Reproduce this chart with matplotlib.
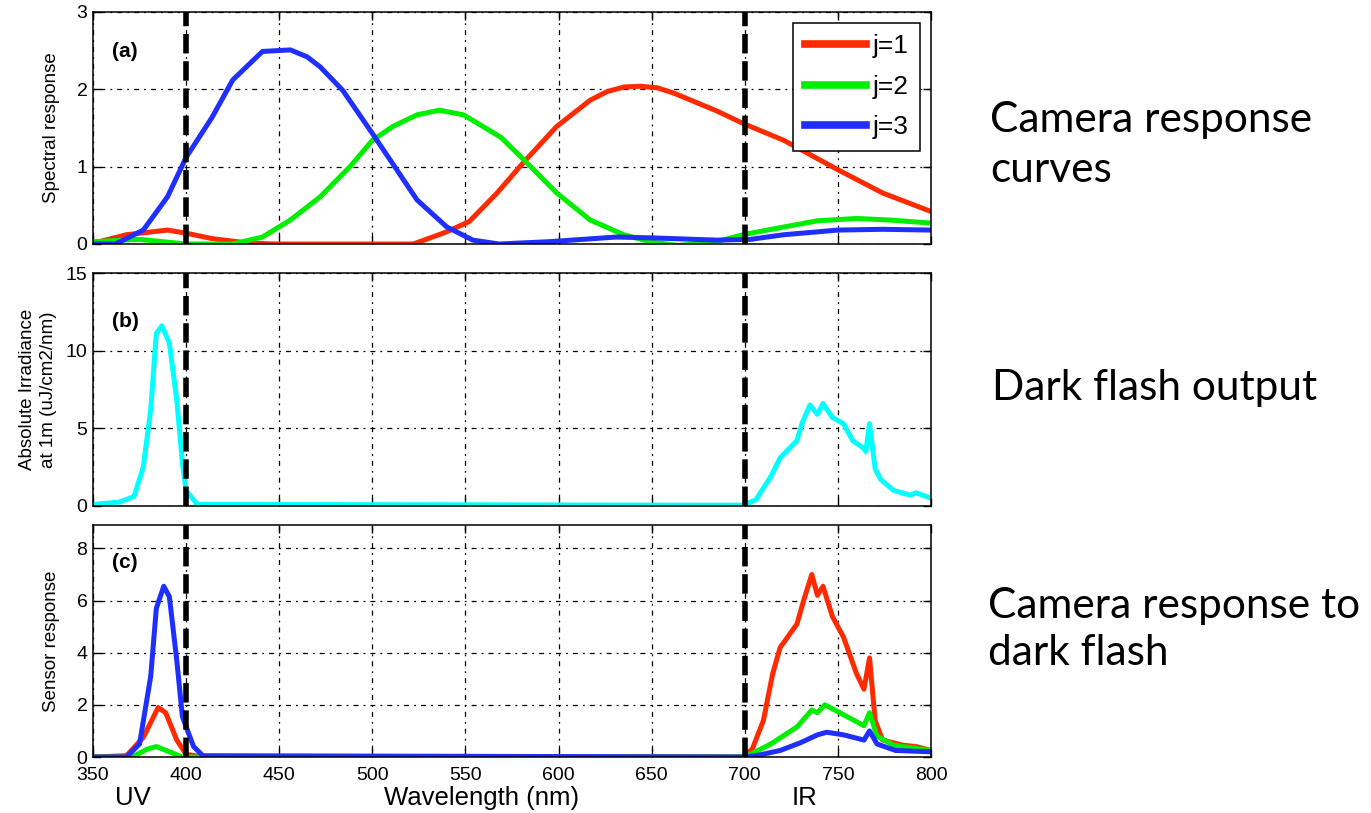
import matplotlib
matplotlib.use("Agg")
import matplotlib.pyplot as plt
from matplotlib.lines import Line2D

plt.rcParams['font.family'] = ['Liberation Sans', 'DejaVu Sans']

# ---------------- data ----------------
# Panel (a): camera spectral response curves
wl_a_r = [350, 368, 390, 400, 414, 434, 449, 522, 538, 542, 552, 567, 581, 599, 617, 626, 635, 644, 653, 662, 671, 685, 699, 721, 750, 774, 800]
resp_r = [0.01, 0.12, 0.18, 0.14, 0.07, 0.01, 0.0, 0.0, 0.14, 0.18, 0.29, 0.66, 1.05, 1.52, 1.86, 1.97, 2.03, 2.04, 2.02, 1.95, 1.86, 1.72, 1.56, 1.34, 0.96, 0.66, 0.42]

wl_a_g = [350, 375, 400, 425, 441, 456, 472, 488, 500, 511, 524, 536, 549, 569, 583, 599, 617, 635, 649, 664, 685, 699, 721, 739, 760, 778, 800]
resp_g = [0.03, 0.06, 0.0, 0.0, 0.09, 0.31, 0.61, 1.0, 1.34, 1.52, 1.67, 1.73, 1.67, 1.38, 1.05, 0.66, 0.31, 0.12, 0.03, -0.02, 0.03, 0.12, 0.22, 0.30, 0.33, 0.31, 0.27]

wl_a_b = [350, 362, 377, 390, 400, 414, 425, 441, 456, 465, 472, 484, 500, 512, 524, 540, 554, 568, 595, 631, 649, 685, 703, 721, 750, 774, 800]
resp_b = [0.0, 0.0, 0.18, 0.61, 1.12, 1.64, 2.12, 2.49, 2.51, 2.42, 2.29, 1.99, 1.43, 1.0, 0.57, 0.22, 0.05, 0.0, 0.03, 0.09, 0.08, 0.05, 0.06, 0.12, 0.18, 0.19, 0.18]

# Panel (b): dark flash output
wl_b = [350, 364, 372, 377, 381, 384, 387, 391, 395, 398, 400, 406, 699, 706, 714, 719, 728, 731, 735,
        739, 742, 747, 753, 758, 764, 765, 767, 770, 773, 780, 789, 792, 800]
irr = [0.1, 0.25, 0.6, 2.5, 6.2, 11.1, 11.6, 10.5, 6.8, 2.8, 1.0, 0.1, 0.05, 0.4, 1.9, 3.1, 4.2, 5.4, 6.5,
       5.9, 6.6, 5.7, 5.3, 4.2, 3.7, 3.5, 5.3, 2.4, 1.7, 1.0, 0.7, 0.85, 0.5]

# Panel (c): camera response to dark flash
wl_c_r = [350, 368, 377, 385, 389, 395, 400, 410, 699, 704, 710, 715, 719, 728, 732, 736, 739, 742, 747,
          753, 760, 764, 767, 770, 774, 785, 792, 800]
sens_r = [0.0, 0.05, 0.75, 1.9, 1.7, 0.65, 0.1, 0.0, 0.0, 0.3, 1.4, 3.2, 4.2, 5.1, 6.1, 7.0, 6.2, 6.55, 5.4,
          4.6, 3.2, 2.6, 3.8, 1.4, 0.65, 0.45, 0.4, 0.25]

wl_c_g = [350, 371, 379, 384, 391, 398, 410, 700, 703, 714, 728, 736, 739, 743, 751, 764, 767, 771, 780, 800]
sens_g = [0.0, 0.0, 0.3, 0.4, 0.2, 0.0, 0.0, 0.0, 0.1, 0.5, 1.15, 1.8, 1.7, 2.0, 1.7, 1.2, 1.7, 0.8, 0.45, 0.25]

wl_c_b = [350, 368, 375, 381, 384, 388, 391, 395, 398, 404, 409, 700, 706, 719, 730, 739, 744, 753, 764,
          767, 771, 781, 800]
sens_b = [0.0, 0.0, 0.5, 3.1, 5.7, 6.55, 6.15, 3.7, 1.55, 0.4, 0.05, 0.0, 0.05, 0.25, 0.55, 0.85, 0.95, 0.85, 0.65,
          1.0, 0.5, 0.25, 0.2]

band_edges = [400, 700]
x_ticks = [350, 400, 450, 500, 550, 600, 650, 700, 750, 800]
legend_labels = ['j=1', 'j=2', 'j=3']
panel_labels = ['(a)', '(b)', '(c)']

RED = '#ff2a00'
GREEN = '#00ee00'
BLUE = '#1f2fff'
CYAN = '#00ffff'

# ---------------- figure ----------------
W, H = 1371, 813
fig = plt.figure(figsize=(W / 100, H / 100), dpi=100)

def px_axes(left, top, right, bottom):
    return fig.add_axes([left / W, 1 - bottom / H, (right - left) / W, (bottom - top) / H])

ax_a = px_axes(93, 12, 931, 244)
ax_b = px_axes(93, 273, 931, 506)
ax_c = px_axes(93, 525, 931, 757)

LW = 3.6
kw = dict(lw=LW, solid_joinstyle='round', solid_capstyle='round')
ax_a.plot(wl_a_r, resp_r, color=RED, **kw)
ax_a.plot(wl_a_g, resp_g, color=GREEN, **kw)
ax_a.plot(wl_a_b, resp_b, color=BLUE, **kw)

ax_b.plot(wl_b, irr, color=CYAN, **kw)

ax_c.plot(wl_c_r, sens_r, color=RED, **kw)
ax_c.plot(wl_c_g, sens_g, color=GREEN, **kw)
ax_c.plot(wl_c_b, sens_b, color=BLUE, **kw)

ylims = [(0, 3), (0, 15), (0, 8.9)]
yticks = [[0, 1, 2, 3], [0, 5, 10, 15], [0, 2, 4, 6, 8]]
ylabels = ['Spectral response', 'Absolute Irradiance\nat 1m (uJ/cm2/nm)', 'Sensor response']
label_y = [0.83, 0.79, 0.84]

for i, ax in enumerate([ax_a, ax_b, ax_c]):
    ax.set_xlim(350, 800)
    ax.set_ylim(*ylims[i])
    ax.set_xticks(x_ticks)
    ax.set_yticks(yticks[i])
    ax.grid(True, color='black', linestyle=(0, (1.5, 4, 4, 4)), linewidth=0.9)
    ax.set_axisbelow(True)
    for b in band_edges:
        ax.axvline(b, color='black', lw=4.0, dashes=(3.5, 1.4), zorder=5)
    ax.tick_params(direction='in', top=True, right=True, length=6, width=1,
                   labelsize=14, pad=4)
    ax.tick_params(axis='x', pad=7)
    for s in ax.spines.values():
        s.set_linewidth(1.1)
    ax.text(0.023, label_y[i], panel_labels[i], transform=ax.transAxes,
            fontsize=15, fontweight='bold', va='center', ha='left', zorder=6)
    if i < 2:
        ax.set_xticklabels([])

ax_a.set_ylabel(ylabels[0], fontsize=13.5, labelpad=12)
ax_b.set_ylabel(ylabels[1], fontsize=13.5, labelpad=6, linespacing=1.3)
ax_c.set_ylabel(ylabels[2], fontsize=13.5, labelpad=12)

handles = [Line2D([], [], color=c, lw=5.5) for c in (RED, GREEN, BLUE)]
leg = ax_a.legend(handles, legend_labels, loc='upper right', fontsize=19,
                  handlelength=2.3, handletextpad=0.25, labelspacing=0.62,
                  borderpad=0.45, borderaxespad=0.4, fancybox=False, framealpha=1)
leg.get_frame().set_edgecolor('black')
leg.get_frame().set_linewidth(1.1)
leg.set_zorder(10)

# bottom labels
fig.text(133 / W, 1 - 798 / H, 'UV', fontsize=18.5, ha='center', va='center')
fig.text(482 / W, 1 - 798 / H, 'Wavelength (nm)', fontsize=18.5, ha='center', va='center')
fig.text(805 / W, 1 - 798 / H, 'IR', fontsize=18.5, ha='center', va='center')

# right-hand annotations
side_font = dict(fontsize=30.5, family=['Lato', 'DejaVu Sans'], ha='left', va='baseline')
fig.text(990 / W, 1 - 132 / H, 'Camera response', **side_font)
fig.text(990 / W, 1 - 182 / H, 'curves', **side_font)
fig.text(992 / W, 1 - 400 / H, 'Dark flash output', **side_font)
fig.text(988 / W, 1 - 618 / H, 'Camera response to', **side_font)
fig.text(988 / W, 1 - 665 / H, 'dark flash', **side_font)

fig.savefig('out.png', dpi=100)
